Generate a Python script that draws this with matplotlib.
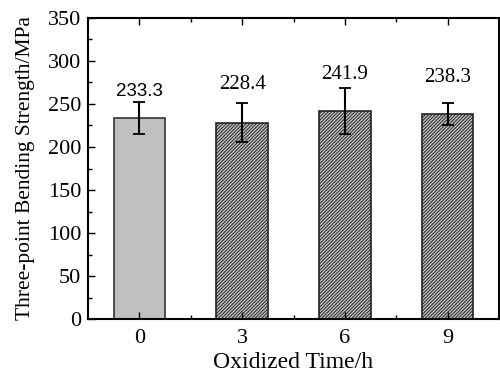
import matplotlib
matplotlib.use("Agg")
import matplotlib.pyplot as plt
from matplotlib.ticker import MultipleLocator
import numpy as np

times = ["0", "3", "6", "9"]
strength = [233.3, 228.4, 241.9, 238.3]
errors = [18.5, 23.0, 26.5, 12.5]
labels = ["233.3", "228.4", "241.9", "238.3"]
label_gap = [3, 10, 5, 19]  # space between error cap and value label

plt.rcParams['hatch.linewidth'] = 0.7
plt.rcParams['font.family'] = 'Liberation Serif'

fig = plt.figure(figsize=(5, 3.72), dpi=100)
ax = fig.add_axes([0.176, 0.142, 0.822, 0.81])

x = np.arange(len(times))
for i in x:
    if i == 0:
        ax.bar(x[i], strength[i], width=0.5, color='#c0c0c0', edgecolor='#333333', linewidth=1.2)
    else:
        ax.bar(x[i], strength[i], width=0.5, color='#c4c4c4', edgecolor='#222222',
               hatch='//////////', linewidth=1.2)
ax.errorbar(x, strength, yerr=errors, fmt='none', ecolor='black', elinewidth=1.5,
            capsize=4, capthick=1.3)

for i in x:
    top = strength[i] + errors[i] + label_gap[i]
    if i == 0:
        ax.text(x[i], top, labels[i], ha='center', va='bottom', fontsize=13.5,
                family='Liberation Sans')
    else:
        ax.text(x[i], top, labels[i], ha='center', va='bottom', fontsize=15)

ax.set_xlim(-0.5, 3.5)
ax.set_ylim(0, 350)
ax.set_xticks(x)
ax.set_xticklabels(times)
ax.set_xticks(x + 0.5, minor=True)
ax.yaxis.set_major_locator(MultipleLocator(50))
ax.yaxis.set_minor_locator(MultipleLocator(25))
ax.tick_params(which='both', direction='in', top=True, right=False, labelsize=16)
ax.tick_params(which='major', length=5, width=1, pad=5)
ax.tick_params(axis='x', which='major', pad=7)
ax.tick_params(which='minor', length=3, width=1)
for s in ax.spines.values():
    s.set_linewidth(1.5)

ax.set_xlabel("Oxidized Time/h", fontsize=17, labelpad=3)
ax.set_ylabel("Three-point Bending Strength/MPa", fontsize=15.5, labelpad=9)

fig.savefig("out.png", dpi=100)
